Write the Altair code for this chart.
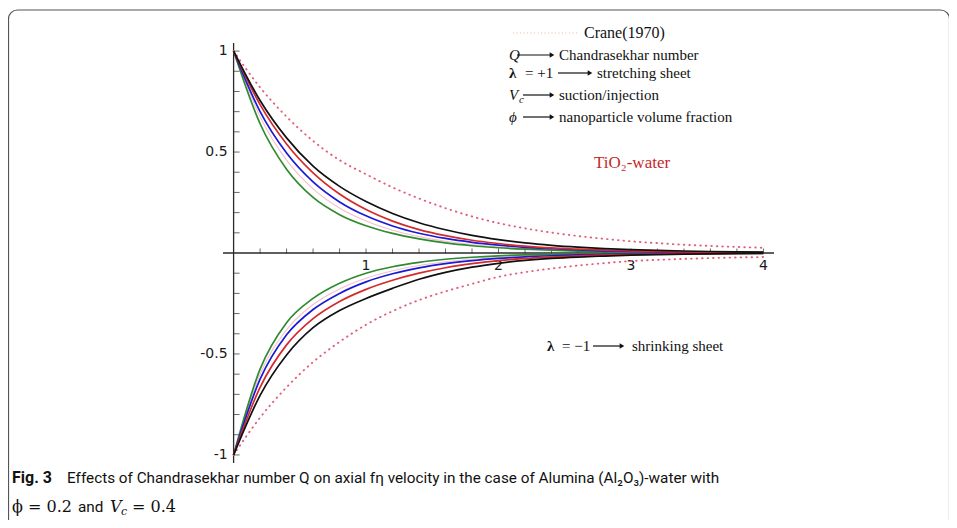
import altair as alt
import pandas as pd

# ---------------- data ----------------
X_GRID = [0, 0.2, 0.4, 0.6, 0.8, 1.0, 1.2, 1.4, 1.6, 1.8, 2.0, 2.2, 2.4, 2.6, 2.8, 3.0, 3.2, 3.4, 3.6, 3.8, 4.0]

CRANE_UP = [1, 0.82, 0.675, 0.555, 0.46, 0.39, 0.325, 0.27, 0.222, 0.181, 0.148, 0.122, 0.101, 0.084, 0.07, 0.058, 0.049, 0.041, 0.035, 0.03, 0.026]
CRANE_DN = [-1, -0.815, -0.665, -0.54, -0.44, -0.355, -0.288, -0.233, -0.19, -0.153, -0.118, -0.095, -0.077, -0.062, -0.05, -0.04, -0.034, -0.029, -0.025, -0.022, -0.02]

BLACK_UP = [1, 0.755, 0.57, 0.43, 0.33, 0.255, 0.196, 0.15, 0.115, 0.087, 0.066, 0.05, 0.038, 0.029, 0.022, 0.017, 0.013, 0.01, 0.0075, 0.0057, 0.0043]
RED_UP = [1, 0.735, 0.54, 0.397, 0.292, 0.215, 0.158, 0.116, 0.086, 0.063, 0.047, 0.034, 0.025, 0.019, 0.014, 0.01, 0.0075, 0.0055, 0.004, 0.003, 0.0022]
BLUE_UP = [1, 0.70, 0.495, 0.352, 0.253, 0.184, 0.134, 0.098, 0.072, 0.053, 0.039, 0.028, 0.021, 0.015, 0.011, 0.008, 0.006, 0.0043, 0.0031, 0.0023, 0.0017]
PINK_UP = [1, 0.675, 0.46, 0.318, 0.223, 0.158, 0.113, 0.081, 0.058, 0.042, 0.03, 0.022, 0.016, 0.011, 0.008, 0.006, 0.0043, 0.003, 0.0022, 0.0016, 0.0011]
GREEN_UP = [1, 0.64, 0.415, 0.275, 0.19, 0.135, 0.097, 0.07, 0.05, 0.036, 0.026, 0.019, 0.0135, 0.0097, 0.007, 0.005, 0.0036, 0.0026, 0.0019, 0.0014, 0.001]

BLACK_DN = [-1, -0.705, -0.505, -0.37, -0.285, -0.225, -0.175, -0.13, -0.096, -0.07, -0.051, -0.037, -0.027, -0.02, -0.015, -0.011, -0.008, -0.006, -0.0045, -0.0033, -0.0025]
RED_DN = [-1, -0.665, -0.455, -0.325, -0.24, -0.18, -0.135, -0.1, -0.073, -0.053, -0.038, -0.027, -0.02, -0.014, -0.01, -0.0073, -0.0053, -0.0038, -0.0027, -0.002, -0.0014]
BLUE_DN = [-1, -0.625, -0.405, -0.28, -0.2, -0.143, -0.103, -0.074, -0.053, -0.038, -0.027, -0.019, -0.0135, -0.0095, -0.0067, -0.0047, -0.0033, -0.0023, -0.0016, -0.0011, -0.0008]
PINK_DN = [-1, -0.6, -0.38, -0.255, -0.178, -0.125, -0.088, -0.062, -0.044, -0.031, -0.022, -0.015, -0.011, -0.0075, -0.0052, -0.0036, -0.0025, -0.0018, -0.0012, -0.0009, -0.0006]
GREEN_DN = [-1, -0.575, -0.345, -0.225, -0.15, -0.1, -0.068, -0.046, -0.031, -0.021, -0.014, -0.0095, -0.0064, -0.0043, -0.0029, -0.002, -0.0013, -0.0009, -0.0006, -0.0004, -0.0003]

X_TICKS = [0.2, 0.4, 0.6, 0.8, 1.0, 1.2, 1.4, 1.6, 1.8, 2.0, 2.2, 2.4, 2.6, 2.8, 3.0, 3.2, 3.4, 3.6, 3.8, 4.0]
Y_TICKS = [-1.0, -0.9, -0.8, -0.7, -0.6, -0.5, -0.4, -0.3, -0.2, -0.1, 0.1, 0.2, 0.3, 0.4, 0.5, 0.6, 0.7, 0.8, 0.9, 1.0]
X_LABEL_VALUES = [1, 2, 3, 4]
X_LABELS = ["1", "2", "3", "4"]
Y_LABEL_VALUES = [1, 0.5, -0.5, -1]
Y_LABELS = ["1", "0.5", "-0.5", "-1"]
X_AXIS_RANGE = [-0.08, 4.08]
Y_AXIS_RANGE = [-1.04, 1.04]

# ---------------- scales ----------------
xs = alt.Scale(domain=X_AXIS_RANGE, nice=False, zero=False)
ys = alt.Scale(domain=Y_AXIS_RANGE, nice=False, zero=False)
SERIF = "Liberation Serif"
CAPFONT = "Roboto, sans-serif"


def curve(vals, color, width=1.6, dash=None, opacity=1.0):
    df = pd.DataFrame({"x": X_GRID, "y": vals})
    kw = dict(color=color, strokeWidth=width, interpolate="monotone", opacity=opacity)
    if dash:
        kw["strokeDash"] = dash
        kw["strokeCap"] = "round"
    return alt.Chart(df).mark_line(**kw).encode(
        x=alt.X("x:Q", scale=xs, axis=None),
        y=alt.Y("y:Q", scale=ys, axis=None),
    )


layers = []

# axis lines
layers.append(
    alt.Chart(pd.DataFrame({"x": [X_AXIS_RANGE[0]], "x2": [X_AXIS_RANGE[1]], "y": [0]}))
    .mark_rule(color="#2a2a2a", strokeWidth=1.3)
    .encode(x=alt.X("x:Q", scale=xs, axis=None), x2="x2:Q", y=alt.Y("y:Q", scale=ys, axis=None))
)
layers.append(
    alt.Chart(pd.DataFrame({"y": [Y_AXIS_RANGE[0]], "y2": [Y_AXIS_RANGE[1]], "x": [0]}))
    .mark_rule(color="#2a2a2a", strokeWidth=1.3)
    .encode(y=alt.Y("y:Q", scale=ys, axis=None), y2="y2:Q", x=alt.X("x:Q", scale=xs, axis=None))
)
# ticks
layers.append(
    alt.Chart(pd.DataFrame({"x": X_TICKS, "y": [0] * len(X_TICKS)}))
    .mark_tick(orient="vertical", size=5, thickness=1, color="#2a2a2a", yOffset=-2)
    .encode(x=alt.X("x:Q", scale=xs, axis=None), y=alt.Y("y:Q", scale=ys, axis=None))
)
layers.append(
    alt.Chart(pd.DataFrame({"y": Y_TICKS, "x": [0] * len(Y_TICKS)}))
    .mark_tick(orient="horizontal", size=6, thickness=1, color="#2a2a2a", xOffset=3)
    .encode(x=alt.X("x:Q", scale=xs, axis=None), y=alt.Y("y:Q", scale=ys, axis=None))
)
# tick labels
layers.append(
    alt.Chart(pd.DataFrame({"x": X_LABEL_VALUES, "y": [0] * 4, "t": X_LABELS}))
    .mark_text(align="center", baseline="top", dy=6, font="DejaVu Sans", fontSize=14, color="#1a1a1a")
    .encode(x=alt.X("x:Q", scale=xs, axis=None), y=alt.Y("y:Q", scale=ys, axis=None), text="t:N")
)
layers.append(
    alt.Chart(pd.DataFrame({"y": Y_LABEL_VALUES, "x": [0] * 4, "t": Y_LABELS}))
    .mark_text(align="right", baseline="middle", dx=-6, font="DejaVu Sans", fontSize=14, color="#1a1a1a")
    .encode(x=alt.X("x:Q", scale=xs, axis=None), y=alt.Y("y:Q", scale=ys, axis=None), text="t:N")
)

# curves
layers.append(curve(CRANE_UP, "#e0607a", 1.9, [0.5, 5]))
layers.append(curve(CRANE_DN, "#e0607a", 1.9, [0.5, 5]))
layers.append(curve(PINK_UP, "#f4c0cc", 1.1))
layers.append(curve(PINK_DN, "#f4c0cc", 1.1))
for up, dn, col in [(GREEN_UP, GREEN_DN, "#2e8b2e"), (BLUE_UP, BLUE_DN, "#1a1ad6"),
                    (RED_UP, RED_DN, "#d42a2a"), (BLACK_UP, BLACK_DN, "#111111")]:
    layers.append(curve(up, col, 1.7))
    layers.append(curve(dn, col, 1.7))

# ---------------- annotations (pixel positions inside plot) ----------------
ANN = alt.Chart(pd.DataFrame({"a": [0]}))


def txt(s, x, y, size=15, font=SERIF, style="normal", weight="normal", color="#111", align="left", baseline="middle"):
    return ANN.mark_text(text=s, x=x, y=y, fontSize=size, font=font, fontStyle=style,
                         fontWeight=weight, color=color, align=align, baseline=baseline)


def arrow(x1, x2, y):
    line = ANN.mark_rule(color="#111", strokeWidth=1.2).encode(
        x=alt.value(x1), x2=alt.value(x2 - 4), y=alt.value(y))
    head = ANN.mark_point(shape="triangle-right", filled=True, size=28, color="#111", opacity=1).encode(
        x=alt.value(x2 - 3), y=alt.value(y))
    return [line, head]


layers.append(ANN.mark_rule(color="#eab9a3", strokeWidth=1.2, strokeDash=[1, 2.5]).encode(
    x=alt.value(290), x2=alt.value(354), y=alt.value(-10)))
layers.append(txt("Crane(1970)", 361, -10, size=16))
layers.append(txt("Q", 286, 12, style="italic"))
layers += arrow(294, 332, 12)
layers.append(txt("Chandrasekhar number", 336, 12))
layers.append(txt("λ", 286, 30, weight="bold"))
layers.append(txt("= +1", 302, 30))
layers += arrow(335, 370, 30)
layers.append(txt("stretching sheet", 374, 30))
layers.append(txt("V", 286, 52, style="italic"))
layers.append(txt("c", 296, 57, size=11, style="italic"))
layers += arrow(300, 332, 52)
layers.append(txt("suction/injection", 336, 52))
layers.append(txt("ϕ", 286, 74, style="italic"))
layers += arrow(300, 332, 74)
layers.append(txt("nanoparticle volume fraction", 336, 74))
layers.append(txt("TiO₂-water", 371, 120, size=17, color="#c62828"))
layers.append(txt("λ", 324, 303, weight="bold"))
layers.append(txt("= −1", 339, 303))
layers += arrow(370, 402, 303)
layers.append(txt("shrinking sheet", 409, 303))

# frame
layers.append(ANN.mark_rect(fill=None, stroke="#555", strokeWidth=1.2, cornerRadius=9).encode(
    x=alt.value(-214.5), x2=alt.value(726.5), y=alt.value(-33), y2=alt.value(560)))

# caption
layers.append(txt("Fig. 3", -211, 435, size=16, font=CAPFONT, weight="bold", color="#111"))
layers.append(txt("Effects of Chandrasekhar number Q on axial fη velocity in the case of Alumina (Al₂O₃)-water with",
                  -156, 435, size=15.3, font=CAPFONT, color="#111"))
layers.append(txt("ϕ = 0.2", -211, 464, size=16, font="DejaVu Serif", color="#111"))
layers.append(txt("and", -145, 464, size=15.3, font=CAPFONT, color="#111"))
layers.append(txt("V", -113, 464, size=16, font="DejaVu Serif", style="italic", color="#111"))
layers.append(txt("c", -102, 469, size=11, font="DejaVu Serif", style="italic", color="#111"))
layers.append(txt("= 0.4", -91, 464, size=16, font="DejaVu Serif", color="#111"))

chart = alt.layer(*layers).properties(
    width=551, height=420,
    autosize=alt.AutoSizeParams(type="none"),
    padding={"left": 215, "top": 35, "right": 175, "bottom": 57},
    background="white",
).configure_view(stroke=None)

chart.save("out.html", embed_options={"renderer": "svg", "actions": False})
